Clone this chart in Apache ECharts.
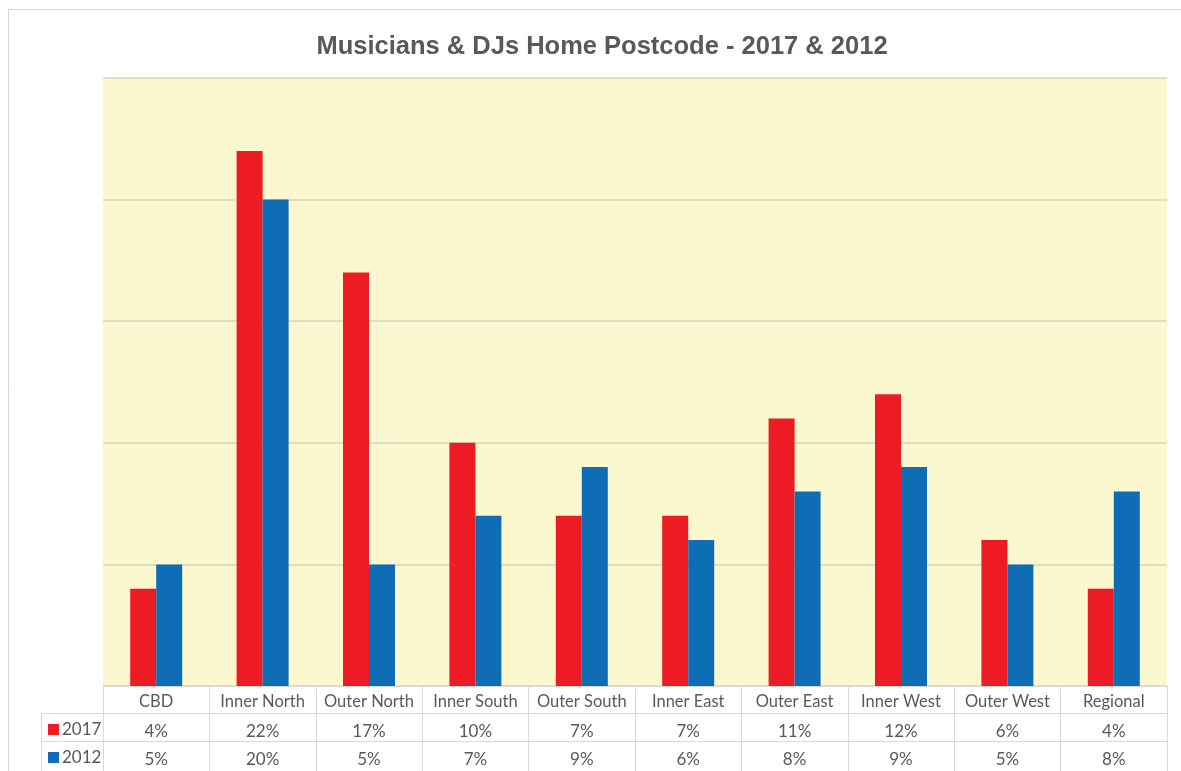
<!DOCTYPE html>
<html>
<head>
<meta charset="utf-8">
<script src="https://cdn.jsdelivr.net/npm/echarts@6/dist/echarts.min.js"></script>
<style>html,body{margin:0;padding:0;background:#fff;}#c{width:1181px;height:771px;}</style>
</head>
<body>
<div id="c"></div>
<script>
const categories = ['CBD','Inner North','Outer North','Inner South','Outer South','Inner East','Outer East','Inner West','Outer West','Regional'];
const values2017 = [4,22,17,10,7,7,11,12,6,4];
const values2012 = [5,20,5,7,9,6,8,9,5,8];
const seriesNames = ['2017','2012'];
const yTicks = [0,5,10,15,20,25];

const textColor = '#595959';
const lineColor = '#d9d9d9';
const tableFont = 'Lato';

const chart = echarts.init(document.getElementById('c'));
const baseX = {
  type: 'category', data: categories, gridIndex: 0, position: 'bottom',
  axisLine: {show: true, lineStyle: {color: lineColor, width: 1}},
  axisTick: {show: false},
  axisLabel: {color: textColor, fontFamily: tableFont, fontSize: 17, interval: 0}
};
const legendBase = {
  orient: 'horizontal', left: 48, padding: 0,
  icon: 'rect', itemWidth: 11, itemHeight: 11, itemGap: 0,
  textStyle: {color: textColor, fontFamily: tableFont, fontSize: 17, padding: [0,0,0,-2]},
  selectedMode: false
};
chart.setOption({
  animation: false,
  backgroundColor: '#ffffff',
  title: {
    text: 'Musicians & DJs Home Postcode - 2017 & 2012',
    left: 597, textAlign: 'center', top: 29,
    textStyle: {fontFamily: 'Liberation Sans', fontSize: 25.5, fontWeight: 'bold', color: textColor}
  },
  legend: [
    Object.assign({}, legendBase, {data: [seriesNames[0]], top: 721}),
    Object.assign({}, legendBase, {data: [seriesNames[1]], top: 749})
  ],
  grid: {left: 103, right: 14, top: 78, bottom: 85, show: true, backgroundColor: '#fbf7cf', borderWidth: 0},
  xAxis: [
    Object.assign({}, baseX, {
      axisTick: {show: true, interval: 0, length: 90, lineStyle: {color: lineColor}},
      axisLabel: Object.assign({}, baseX.axisLabel, {margin: 7, fontSize: 16.5})
    }),
    Object.assign({}, baseX, {
      offset: 27,
      axisLabel: Object.assign({}, baseX.axisLabel, {margin: 10, formatter: (v, i) => values2017[i] + '%'})
    }),
    Object.assign({}, baseX, {
      offset: 55,
      axisLabel: Object.assign({}, baseX.axisLabel, {margin: 10, formatter: (v, i) => values2012[i] + '%'})
    })
  ],
  yAxis: {
    type: 'value', min: yTicks[0], max: yTicks[yTicks.length - 1], interval: 5,
    axisLine: {show: false}, axisTick: {show: false}, axisLabel: {show: false},
    splitLine: {show: true, lineStyle: {color: '#d8d5c0', width: 1.5}}
  },
  series: [
    {name: seriesNames[0], type: 'bar', data: values2017, barWidth: 26, barGap: '0%', itemStyle: {color: '#ed1c24'}},
    {name: seriesNames[1], type: 'bar', data: values2012, barWidth: 26, barGap: '0%', itemStyle: {color: '#0f6db5'}}
  ],
  graphic: [
    {type: 'rect', shape: {x: 8.5, y: 9.5, width: 1300, height: 900}, style: {fill: null, stroke: '#d4d4d4', lineWidth: 1}, silent: true},
    {type: 'polyline', shape: {points: [[103, 713.5], [41.5, 713.5], [41.5, 771]]}, style: {fill: null, stroke: lineColor, lineWidth: 1}, silent: true},
    {type: 'line', shape: {x1: 41.5, y1: 741.5, x2: 103, y2: 741.5}, style: {stroke: lineColor, lineWidth: 1}, silent: true}
  ]
});
</script>
</body>
</html>
